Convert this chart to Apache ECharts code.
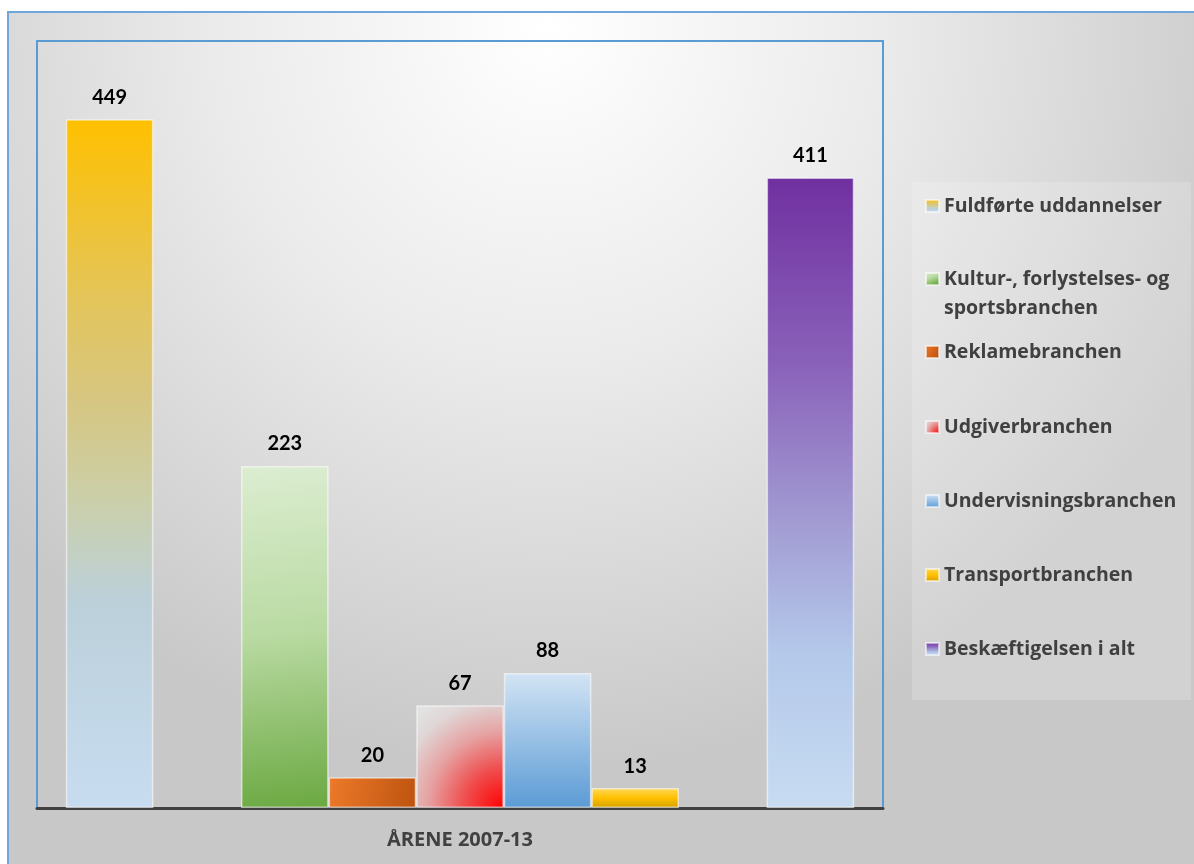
<!DOCTYPE html>
<html>
<head>
<meta charset="utf-8">
<script src="https://cdn.jsdelivr.net/npm/echarts@6/dist/echarts.min.js"></script>
<style>
  html, body { margin: 0; padding: 0; background: #ffffff; }
  #chart { width: 1194px; height: 864px; }
</style>
</head>
<body>
<div id="chart"></div>
<script>
// Category and series data
const categories = ['ÅRENE 2007-13'];
const seriesNames = [
  'Fuldførte uddannelser',
  'Kultur-, forlystelses- og sportsbranchen',
  'Reklamebranchen',
  'Udgiverbranchen',
  'Undervisningsbranchen',
  'Transportbranchen',
  'Beskæftigelsen i alt'
];
const fuldforte = [449];
const kultur = [223];
const reklame = [20];
const udgiver = [67];
const undervisning = [88];
const transport = [13];
const beskaeftigelse = [411];

const LABEL_FONT = 'Lato, "Open Sans", sans-serif';
const TEXT_FONT = '"Open Sans", Lato, sans-serif';

function lin(x, y, x2, y2, stops) {
  return new echarts.graphic.LinearGradient(x, y, x2, y2,
    stops.map(s => ({ offset: s[0], color: s[1] })));
}
function rad(x, y, r, stops) {
  return new echarts.graphic.RadialGradient(x, y, r,
    stops.map(s => ({ offset: s[0], color: s[1] })));
}

const fills = [
  lin(0, 0, 0, 1, [[0, '#FFC000'], [0.26, '#E4C55A'], [0.41, '#D6C682'], [0.55, '#CBCFA8'], [0.7, '#BCD0DA'], [1, '#C7DCF0']]),
  lin(0, 0, 0.4, 1, [[0, '#DCEDD1'], [0.5, '#B9DAA2'], [1, '#6DAA44']]),
  lin(0, 0, 1, 0.6, [[0, '#EE7A2A'], [1, '#BE5410']]),
  rad(1, 1, 1.45, [[0, '#FF0000'], [0.3, '#F04A4A'], [0.6, '#E6A2A2'], [0.85, '#E0D6D6'], [1, '#E2E2E2']]),
  lin(0, 0, 0, 1, [[0, '#D3E4F4'], [1, '#5B9BD5']]),
  lin(0, 0, 0, 1, [[0, '#FFD95A'], [0.5, '#FFC000'], [1, '#D4A000']]),
  lin(0, 0, 0, 1, [[0, '#7030A0'], [0.3, '#8A62BA'], [0.55, '#A29CD3'], [0.75, '#B4C8EA'], [1, '#C7DCF1']])
];
const values = [fuldforte, kultur, reklame, udgiver, undervisning, transport, beskaeftigelse];

const labelStyle = {
  show: true,
  position: 'top',
  distance: 12,
  fontFamily: LABEL_FONT,
  fontWeight: 'bold',
  fontSize: 20,
  color: '#000000'
};

function barSeries(i) {
  return {
    type: 'bar',
    name: seriesNames[i],
    data: values[i],
    barWidth: 87.6,
    barGap: '0%',
    itemStyle: { color: fills[i], borderColor: 'rgba(255,255,255,0.55)', borderWidth: 1.5 },
    label: labelStyle
  };
}
// empty slot used to leave a bar-wide gap between groups
function spacer(id) {
  return { type: 'bar', id: id, name: '', data: ['-'], barWidth: 87.6, barGap: '0%', silent: true };
}

const series = [
  barSeries(0),
  spacer('gapA'),
  barSeries(1), barSeries(2), barSeries(3), barSeries(4), barSeries(5),
  spacer('gapB'),
  barSeries(6)
];

// one legend block per entry; the wrapped entry gets a blank leading line so
// its first text line sits level with the marker
const legendCenters = [206, 279, 352, 427, 501, 575, 649];
const legends = seriesNames.map((name, i) => {
  const wrapped = i === 1;
  return {
    orient: 'vertical',
    left: 925,
    top: wrapped ? legendCenters[i] - 43.5 : legendCenters[i] - 11,
    padding: 0,
    icon: 'rect',
    itemWidth: 13,
    itemHeight: 12,
    selectedMode: false,
    data: [name],
    formatter: wrapped ? () => ' \nKultur-, forlystelses- og\nsportsbranchen' : undefined,
    textStyle: {
      fontFamily: TEXT_FONT,
      fontWeight: 'bold',
      fontSize: 19.5,
      color: '#404040',
      lineHeight: wrapped ? 29 : 22
    }
  };
});

const chart = echarts.init(document.getElementById('chart'), null, { renderer: 'canvas' });
chart.setOption({
  animation: false,
  backgroundColor: '#ffffff',
  graphic: [
    {
      type: 'rect',
      z: -10,
      shape: { x: 8, y: 12, width: 1200, height: 870 },
      style: {
        fill: rad(0.45, 0.02, 0.85, [[0, '#FFFFFF'], [0.45, '#EBEBEB'], [0.8, '#D5D5D5'], [1, '#C8C8C8']]),
        stroke: '#6FA6DC',
        lineWidth: 2
      },
      silent: true
    },
    {
      type: 'rect',
      z: -9,
      shape: { x: 912, y: 182, width: 279, height: 518 },
      style: { fill: 'rgba(255,255,255,0.18)' },
      silent: true
    }
  ],
  grid: {
    left: 37,
    top: 41,
    right: 311,
    bottom: 56,
    show: true,
    borderColor: '#5B9BD5',
    borderWidth: 2,
    backgroundColor: 'transparent'
  },
  legend: legends,
  xAxis: {
    type: 'category',
    data: categories,
    axisLine: { show: true, lineStyle: { color: '#404040', width: 3 } },
    axisTick: { show: false },
    axisLabel: {
      margin: 22,
      fontFamily: TEXT_FONT,
      fontWeight: 'bold',
      fontSize: 20,
      color: '#404040'
    }
  },
  yAxis: {
    type: 'value',
    min: 0,
    max: 500,
    show: false,
    splitLine: { show: false }
  },
  series: series
});
</script>
</body>
</html>
